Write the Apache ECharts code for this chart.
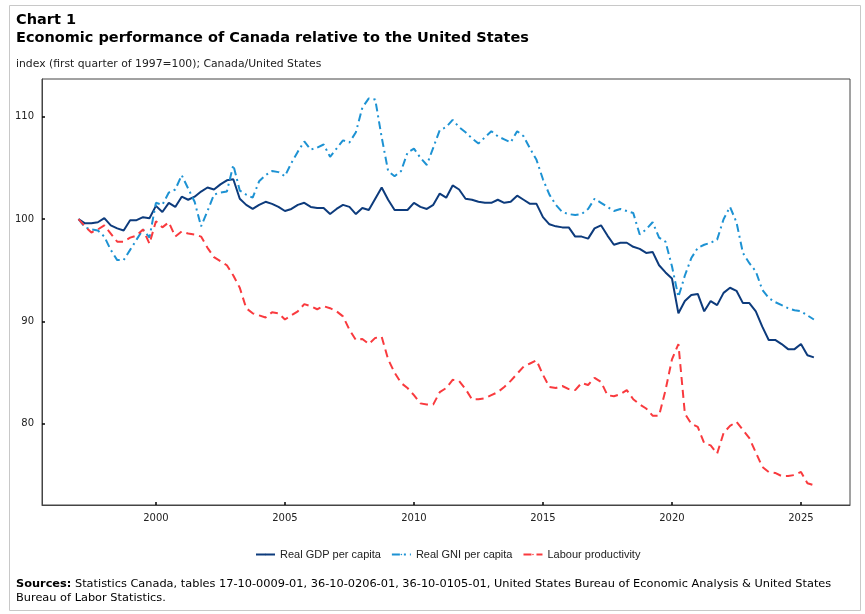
<!DOCTYPE html>
<html>
<head>
<meta charset="utf-8">
<script src="https://cdn.jsdelivr.net/npm/echarts@6/dist/echarts.min.js"></script>
<style>
html,body{margin:0;padding:0;background:#fff;}
#chart{width:865px;height:614px;}
</style>
</head>
<body>
<div id="chart"></div>
<script>
// Quarterly data, 1997 Q1 to 2025 Q3 (index, first quarter of 1997 = 100)
var startYear = 1997;
var gdpPerCapita = [
  100.0, 99.6, 99.6, 99.7, 100.1, 99.4, 99.1, 98.9, 99.9, 99.9, 100.2, 100.1,
  101.3, 100.7, 101.6, 101.2, 102.2, 101.9, 102.2, 102.7, 103.1, 102.9, 103.4, 103.8,
  103.9, 102.0, 101.4, 101.0, 101.4, 101.7, 101.5, 101.2, 100.8, 101.0, 101.4, 101.6,
  101.2, 101.1, 101.1, 100.5, 101.0, 101.4, 101.2, 100.5, 101.1, 100.9, 102.0, 103.1,
  101.9, 100.9, 100.9, 100.9, 101.6, 101.2, 101.0, 101.4, 102.5, 102.1, 103.3, 102.9,
  102.0, 101.9, 101.7, 101.6, 101.6, 101.9, 101.6, 101.7, 102.3, 101.9, 101.5, 101.5,
  100.2, 99.5, 99.3, 99.2, 99.2, 98.3, 98.3, 98.1, 99.1, 99.4, 98.4, 97.5,
  97.7, 97.7, 97.3, 97.1, 96.7, 96.8, 95.5, 94.8, 94.2, 90.8, 92.0, 92.6,
  92.7, 91.0, 92.0, 91.6, 92.8, 93.3, 93.0, 91.8, 91.8, 91.0, 89.5, 88.2,
  88.2, 87.8, 87.3, 87.3, 87.8, 86.7, 86.5
];
var gniPerCapita = [
  100.0, 99.2, 99.0, 98.9, 98.3, 97.0, 96.0, 96.0, 97.0, 98.0, 99.0, 98.2,
  101.6, 101.4, 102.6, 102.9, 104.3, 103.0, 101.7, 99.3, 100.8, 102.4, 102.6, 102.7,
  105.3, 102.8, 102.4, 102.1, 103.7, 104.3, 104.7, 104.6, 104.2, 105.5, 106.6, 107.6,
  106.8, 107.0, 107.3, 106.1, 106.9, 107.7, 107.5, 108.5, 110.9, 111.8, 111.7, 108.0,
  104.7, 104.2, 104.7, 106.5, 106.9, 106.0, 105.3, 107.0, 108.7, 109.0, 109.7, 109.0,
  108.5, 107.9, 107.4, 108.0, 108.6, 108.1, 107.8, 107.5, 108.6, 108.1, 106.9, 105.8,
  103.9, 102.4, 101.4, 100.7, 100.5, 100.4, 100.5, 101.0, 102.0, 101.6, 101.2, 100.8,
  101.0, 100.8, 100.6, 98.5, 99.0, 99.7, 98.2, 97.8, 95.4, 92.4, 94.5, 96.2,
  97.2, 97.5, 97.7, 98.0, 100.0, 101.2, 99.7, 96.7, 95.7, 94.9, 93.1, 92.3,
  91.9, 91.6, 91.3, 91.1, 91.0, 90.6, 90.2
];
var labourProductivity = [
  100.0, 99.3, 98.7, 99.0, 99.4, 98.6, 97.8, 97.8, 98.2, 98.4, 99.0, 97.6,
  99.8, 99.2, 99.7, 98.3, 98.8, 98.6, 98.5, 98.3, 97.2, 96.3, 95.9, 95.5,
  94.5, 93.3, 91.3, 90.8, 90.6, 90.4, 90.9, 90.8, 90.2, 90.6, 91.0, 91.7,
  91.5, 91.2, 91.5, 91.3, 91.0, 90.5, 89.2, 88.2, 88.3, 87.8, 88.4, 88.5,
  86.3, 85.0, 84.0, 83.5, 82.8, 82.0, 81.9, 81.9, 83.1, 83.5, 84.3, 84.2,
  83.4, 82.4, 82.4, 82.5, 82.8, 83.1, 83.6, 84.2, 84.9, 85.6, 85.9, 86.2,
  84.8, 83.6, 83.5, 83.7, 83.4, 83.3, 84.0, 83.8, 84.5, 84.1, 82.8, 82.7,
  82.9, 83.3, 82.4, 81.9, 81.5, 80.8, 80.8, 83.3, 86.3, 87.8, 81.0, 80.0,
  79.7, 78.1, 77.9, 77.1, 79.1, 79.8, 80.2, 79.4, 78.6, 77.2, 75.8, 75.3,
  75.2, 74.9, 74.9, 75.0, 75.3, 74.2, 74.0
];
var seriesNames = ['Real GDP per capita', 'Real GNI per capita', 'Labour productivity'];
var yTickValues = [80, 90, 100, 110];
var xTickValues = [2000, 2005, 2010, 2015, 2020, 2025];

// quarter positions on the time axis (year + quarter fraction)
var quarters = [];
for (var i = 0; i < gdpPerCapita.length; i++) {
  quarters.push(startYear + Math.floor(i / 4) + (i % 4) / 4);
}
function pairs(vals) {
  return vals.map(function (v, k) { return [quarters[k], v]; });
}

var FONT = 'DejaVu Sans, Verdana, sans-serif';
var chart = echarts.init(document.getElementById('chart'), null, {renderer: 'canvas'});
chart.setOption({
  backgroundColor: '#ffffff',
  animation: false,
  title: [
    {
      text: 'Chart 1\nEconomic performance of Canada relative to the United States',
      left: 16, top: 11, padding: 0,
      textStyle: {fontFamily: FONT, fontWeight: 'bold', fontSize: 14.5, color: '#000', lineHeight: 18}
    },
    {
      text: 'index (first quarter of 1997=100); Canada/United States',
      left: 16, top: 59, padding: 0,
      textStyle: {fontFamily: FONT, fontWeight: 'normal', fontSize: 10.8, color: '#222'}
    }
  ],
  graphic: [
    {
      type: 'rect', left: 7, top: 3, silent: true,
      shape: {width: 851, height: 605},
      style: {fill: 'none', stroke: '#c8c8c8', lineWidth: 1}
    },
    {
      type: 'text', left: 16, top: 577,
      style: {
        text: '{b|Sources:} Statistics Canada, tables 17-10-0009-01, 36-10-0206-01, 36-10-0105-01, United States Bureau of Economic Analysis & United States\nBureau of Labor Statistics.',
        rich: {
          b: {fontFamily: FONT, fontWeight: 'bold', fontSize: 11.35, fill: '#000'}
        },
        fontFamily: FONT, fontSize: 11.35, fill: '#000', lineHeight: 14
      }
    }
  ],
  legend: {
    top: 549, left: 255, padding: 0,
    itemWidth: 19, itemHeight: 2, itemGap: 10,
    textStyle: {fontFamily: 'Liberation Sans, Arial, sans-serif', fontSize: 11, color: '#222'},
    data: seriesNames
  },
  grid: {
    left: 42, right: 15, top: 79, bottom: 109,
    show: true, borderColor: '#444', borderWidth: 1
  },
  xAxis: {
    type: 'value', min: 1995.585, max: 2026.9,
    axisLine: {show: true, lineStyle: {color: '#444', width: 1}},
    axisTick: {show: true, inside: true, length: 3, customValues: xTickValues, lineStyle: {color: '#000', width: 1.5}},
    axisLabel: {customValues: xTickValues, fontFamily: FONT, fontSize: 10, color: '#222', margin: 8,
      formatter: function (v) { return String(v); }},
    splitLine: {show: false}
  },
  yAxis: {
    type: 'value', min: 72.07, max: 113.7,
    axisLine: {show: true, lineStyle: {color: '#444', width: 1}},
    axisTick: {show: true, inside: true, length: 3, customValues: yTickValues, lineStyle: {color: '#000', width: 1.5}},
    axisLabel: {customValues: yTickValues, fontFamily: FONT, fontSize: 10, color: '#222', margin: 8,
      formatter: function (v) { return String(v); }},
    splitLine: {show: false}
  },
  series: [
    {
      name: seriesNames[0], type: 'line', data: pairs(gdpPerCapita),
      showSymbol: false, symbol: 'none',
      lineStyle: {color: '#0d3b7c', width: 2}, itemStyle: {color: '#0d3b7c'}
    },
    {
      name: seriesNames[1], type: 'line', data: pairs(gniPerCapita),
      showSymbol: false, symbol: 'none',
      lineStyle: {color: '#1d92d3', width: 2, type: [8, 4, 2, 4]}, itemStyle: {color: '#1d92d3'}
    },
    {
      name: seriesNames[2], type: 'line', data: pairs(labourProductivity),
      showSymbol: false, symbol: 'none',
      lineStyle: {color: '#f93a3e', width: 2, type: [8, 5]}, itemStyle: {color: '#f93a3e'}
    }
  ]
});
</script>
</body>
</html>
